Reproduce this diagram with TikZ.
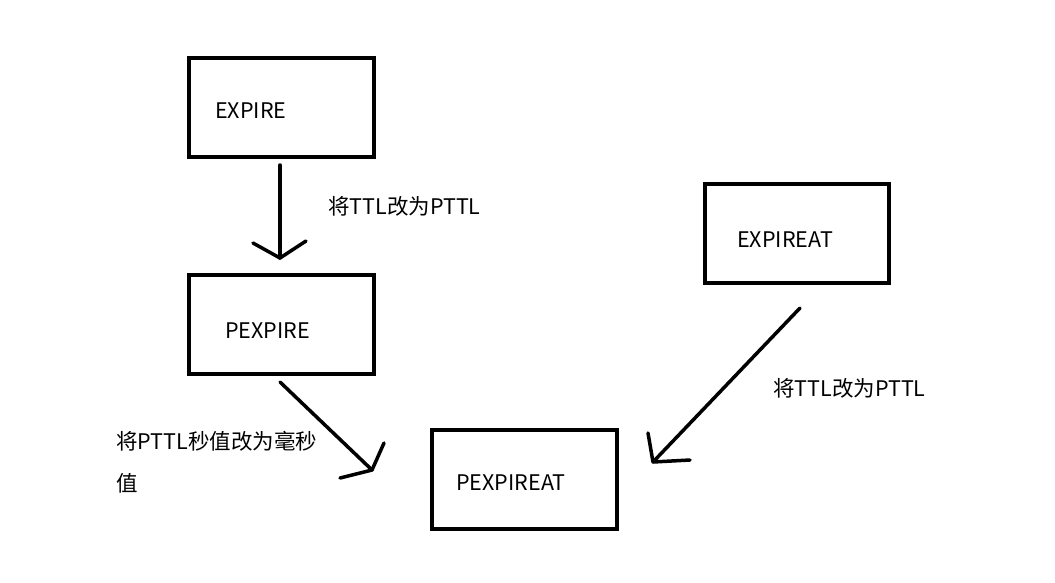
\documentclass[tikz,border=0pt]{standalone}
\usepackage{fontspec}
\setmainfont{Noto Sans CJK SC}
\begin{document}
\begin{tikzpicture}[x=1pt,y=-1pt,
  box/.style={draw,line width=3.5pt},
  lbl/.style={font=\fontsize{21.5}{24}\selectfont,anchor=west,inner sep=0pt},
  ln/.style={line width=3.5pt,line cap=round,line join=round}]
\useasboundingbox[fill=white] (0,0) rectangle (1055,582);
\draw[box] (189,58) rectangle (374,157);
\draw[box] (189,275) rectangle (374,374);
\draw[box] (705,184) rectangle (889,283);
\draw[box] (432,430) rectangle (617,529);
\node[lbl] (t1) at (215,111) {EXPIRE};
\node[lbl] (t2) at (225,331) {PEXPIRE};
\node[lbl] (t3) at (737,240) {EXPIREAT};
\node[lbl] (t4) at (456,483) {PEXPIREAT};
\node[lbl] (l1) at (328,206) {将TTL改为PTTL};
\node[lbl] (l2) at (773,388) {将TTL改为PTTL};
\node[lbl] (l3) at (116,441) {将PTTL秒值改为毫秒};
\node[lbl] (l4) at (116,483) {值};
\coordinate (a1s) at (280,165); \coordinate (a1e) at (280,258);
\draw[ln] (a1s) -- (a1e);
\draw[ln] (253,243) -- (a1e) -- (306,241);
\coordinate (a2s) at (280,382); \coordinate (a2e) at (372,470);
\draw[ln] (a2s) -- (a2e);
\draw[ln] (384,443) -- (a2e) -- (340,478);
\coordinate (a3s) at (800,308); \coordinate (a3e) at (653,462);
\draw[ln] (a3s) -- (a3e);
\draw[ln] (648,433) -- (a3e) -- (690,460);
\end{tikzpicture}
\end{document}
